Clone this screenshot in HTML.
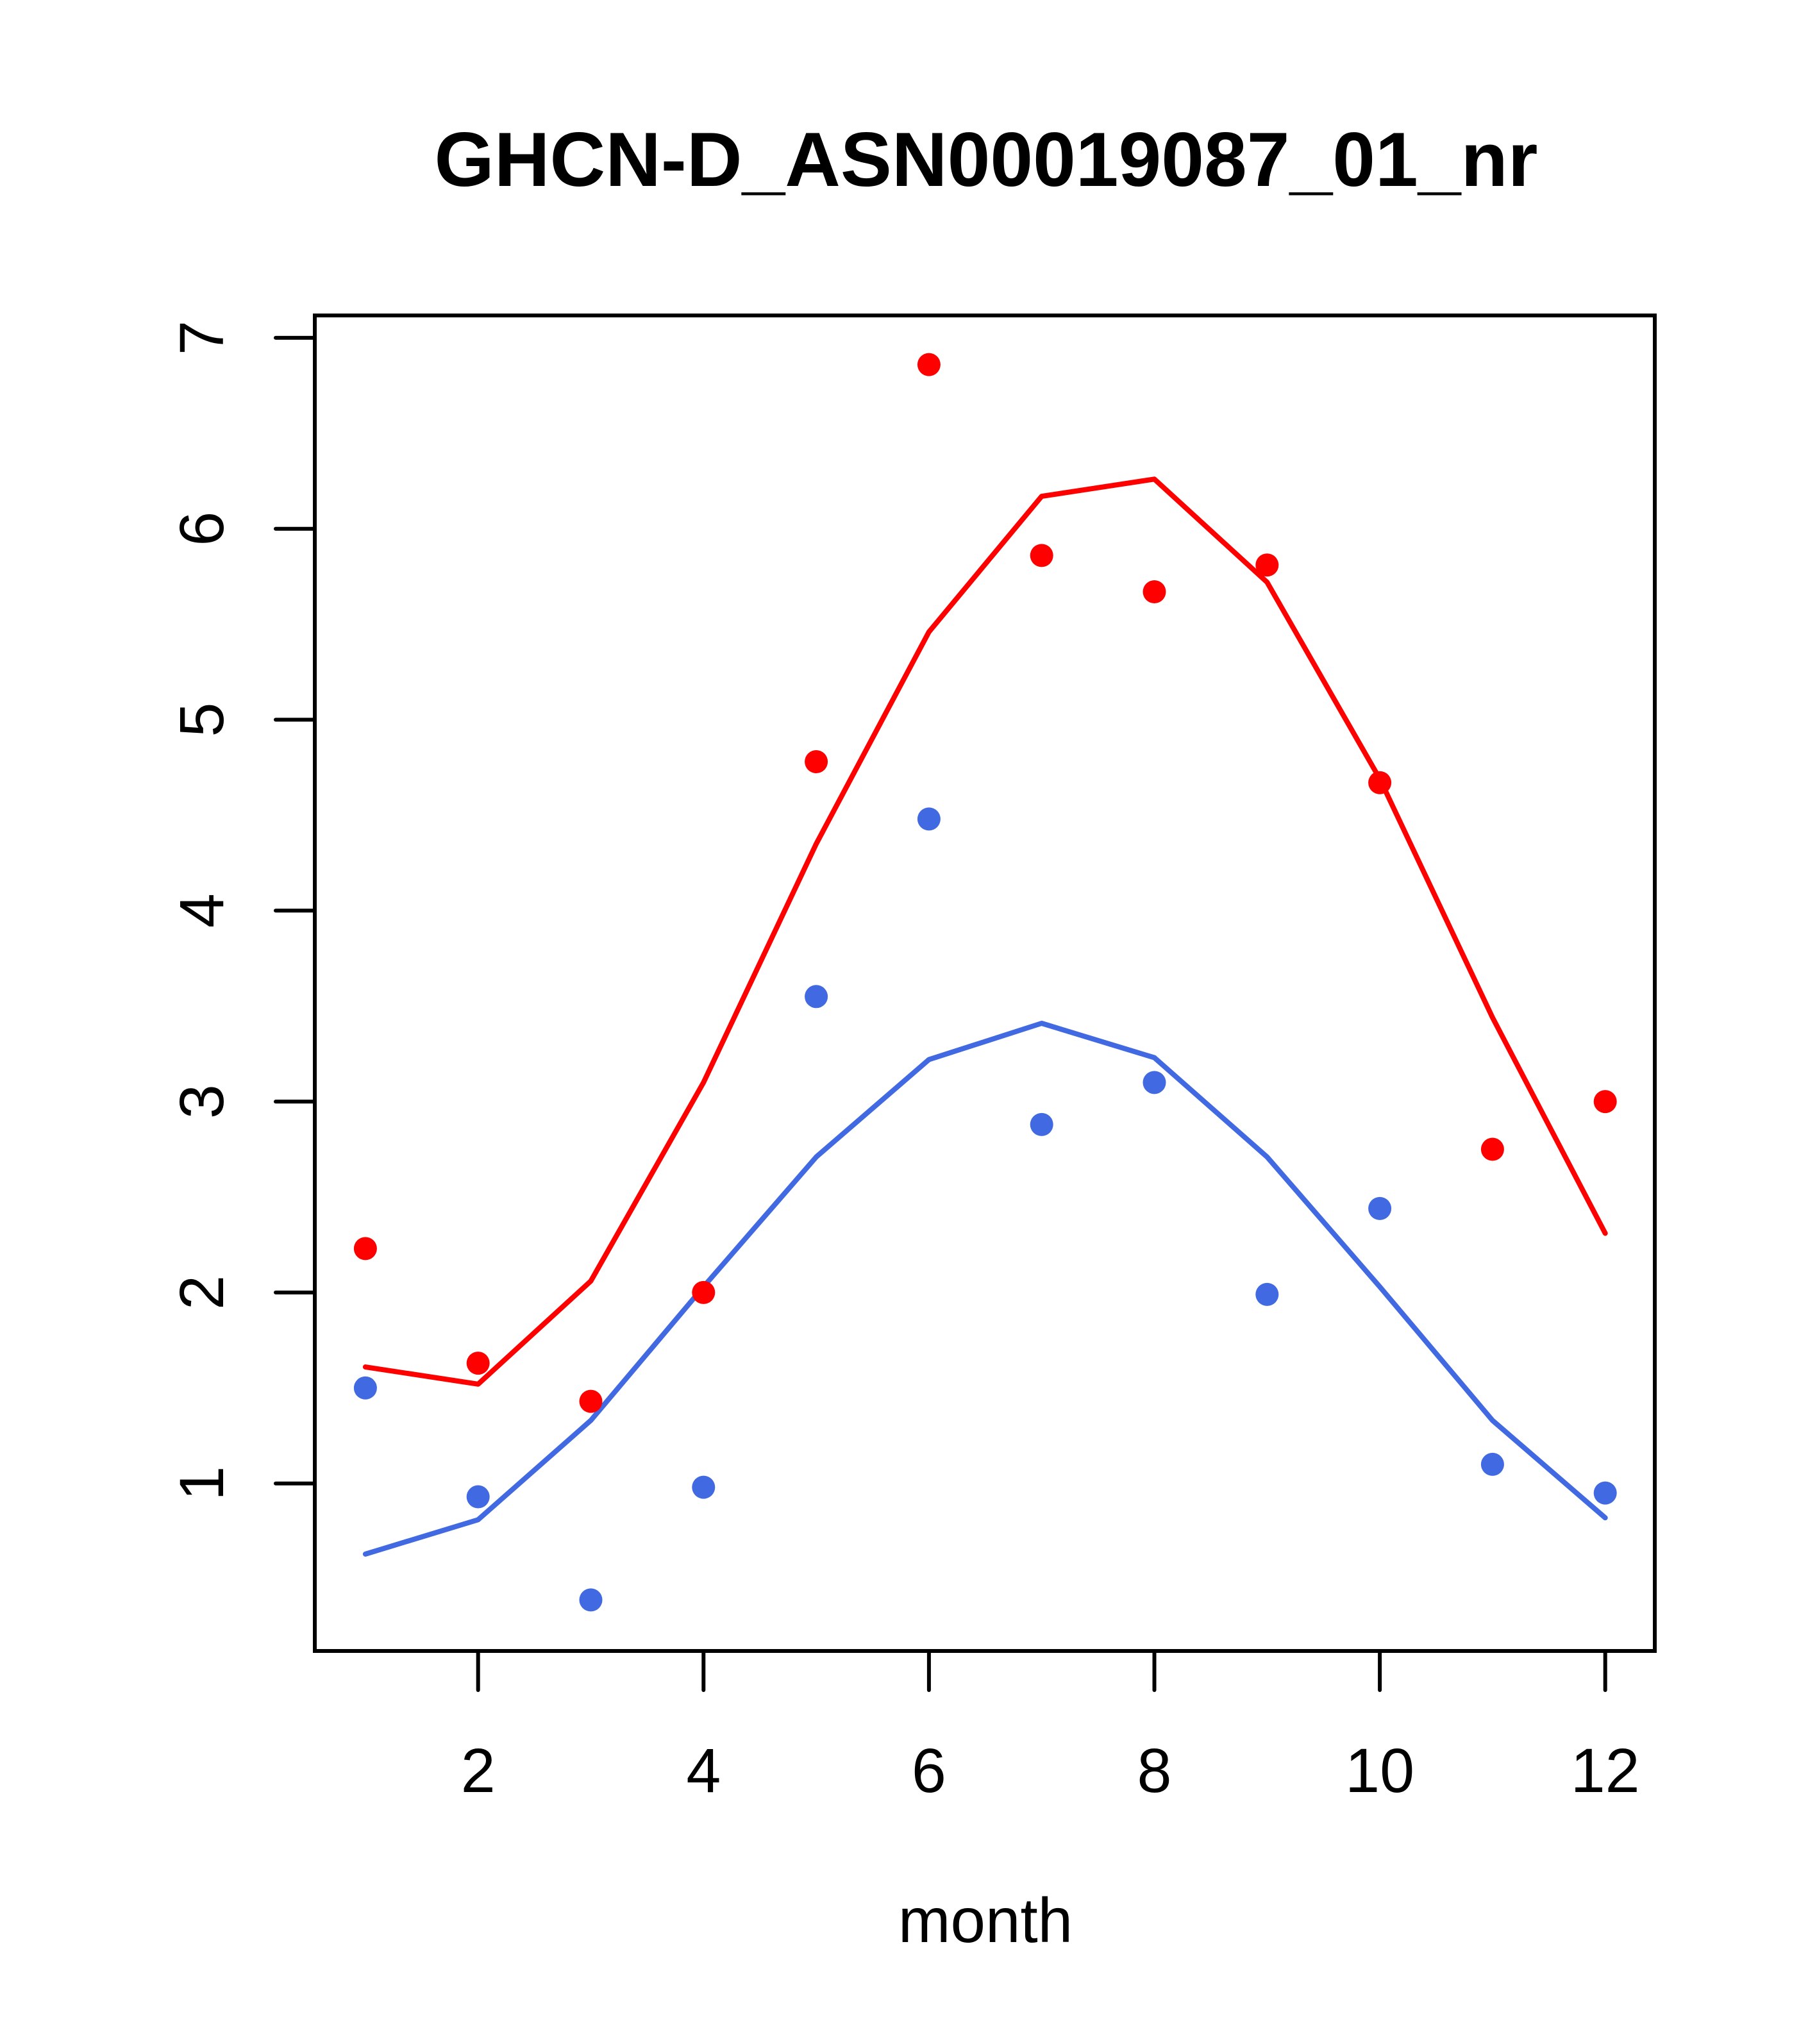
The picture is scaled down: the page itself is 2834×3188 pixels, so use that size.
<!DOCTYPE html>
<html><head><meta charset="utf-8"><style>
html,body{margin:0;padding:0;background:#fff;}
svg{display:block;}
text{font-family:"Liberation Sans",sans-serif;fill:#000;}
</style></head><body>
<svg id="chart" width="2834" height="3188" viewBox="0 0 2834 3188" xmlns="http://www.w3.org/2000/svg">
<rect width="2834" height="3188" fill="#fff"/>
<text x="1538" y="290" font-size="120" font-weight="bold" text-anchor="middle">GHCN-D_ASN00019087_01_nr</text>
<text x="1537" y="3029" font-size="98" text-anchor="middle">month</text>
<g id="axes"></g>
<g id="series"></g>
<rect x="491" y="492" width="2090" height="2083" fill="none" stroke="#000" stroke-width="6"/>
</svg>
<script>
const months = [1,2,3,4,5,6,7,8,9,10,11,12];
const redPoints = [2.23,1.63,1.43,2.00,4.78,6.86,5.86,5.67,5.81,4.67,2.75,3.00];
const redLine = [1.61,1.52,2.06,3.10,4.35,5.46,6.17,6.26,5.72,4.69,3.44,2.31];
const bluePoints = [1.50,0.93,0.39,0.98,3.55,4.48,2.88,3.10,1.99,2.44,1.10,0.95];
const blueLine = [0.63,0.81,1.33,2.03,2.71,3.22,3.41,3.23,2.71,2.03,1.33,0.82];
const xTicks = [2,4,6,8,10,12];
const yTicks = [1,2,3,4,5,6,7];

function sx(v){ return 569.9 + (v-1)*175.8; }
function sy(v){ return 2313.7 - (v-1)*297.8; }
const NS='http://www.w3.org/2000/svg';
const axes=document.getElementById('axes');
const series=document.getElementById('series');
function mk(tag,attrs,parent){const e=document.createElementNS(NS,tag);for(const k in attrs)e.setAttribute(k,attrs[k]);parent.appendChild(e);return e;}

xTicks.forEach(t=>{
  const l=mk('line',{x1:sx(t),x2:sx(t),y1:2575,y2:2636,stroke:'#000','stroke-width':6,'stroke-linecap':'round'},axes);
  
  
  const tx=mk('text',{x:sx(t),y:2795,'font-size':97,'text-anchor':'middle'},axes);
  tx.textContent=t;
  
  
});
yTicks.forEach(t=>{
  const l=mk('line',{x1:430,x2:491,y1:sy(t),y2:sy(t),stroke:'#000','stroke-width':6,'stroke-linecap':'round'},axes);
  
  
  const tx=mk('text',{x:0,y:0,'font-size':97,'text-anchor':'middle',transform:`translate(348,${sy(t)}) rotate(-90)`},axes);
  tx.textContent=t;
  
  
});

function drawLine(vals,color,name){
  const pts=vals.map((v,i)=>sx(months[i])+','+sy(v)).join(' ');
  const p=mk('polyline',{points:pts,fill:'none',stroke:color,'stroke-width':8,'stroke-linecap':'round','stroke-linejoin':'round'},series);
  
  
}
function drawPoints(vals,color,name){
  vals.forEach((v,i)=>{
    const c=mk('circle',{cx:sx(months[i]),cy:sy(v),r:18,fill:color},series);
    
    
  });
}
drawLine(redLine,'#ff0000','red-fit-line');
drawLine(blueLine,'#4169e1','blue-fit-line');
drawPoints(redPoints,'#ff0000','red-point');
drawPoints(bluePoints,'#4169e1','blue-point');
</script>
</body></html>
